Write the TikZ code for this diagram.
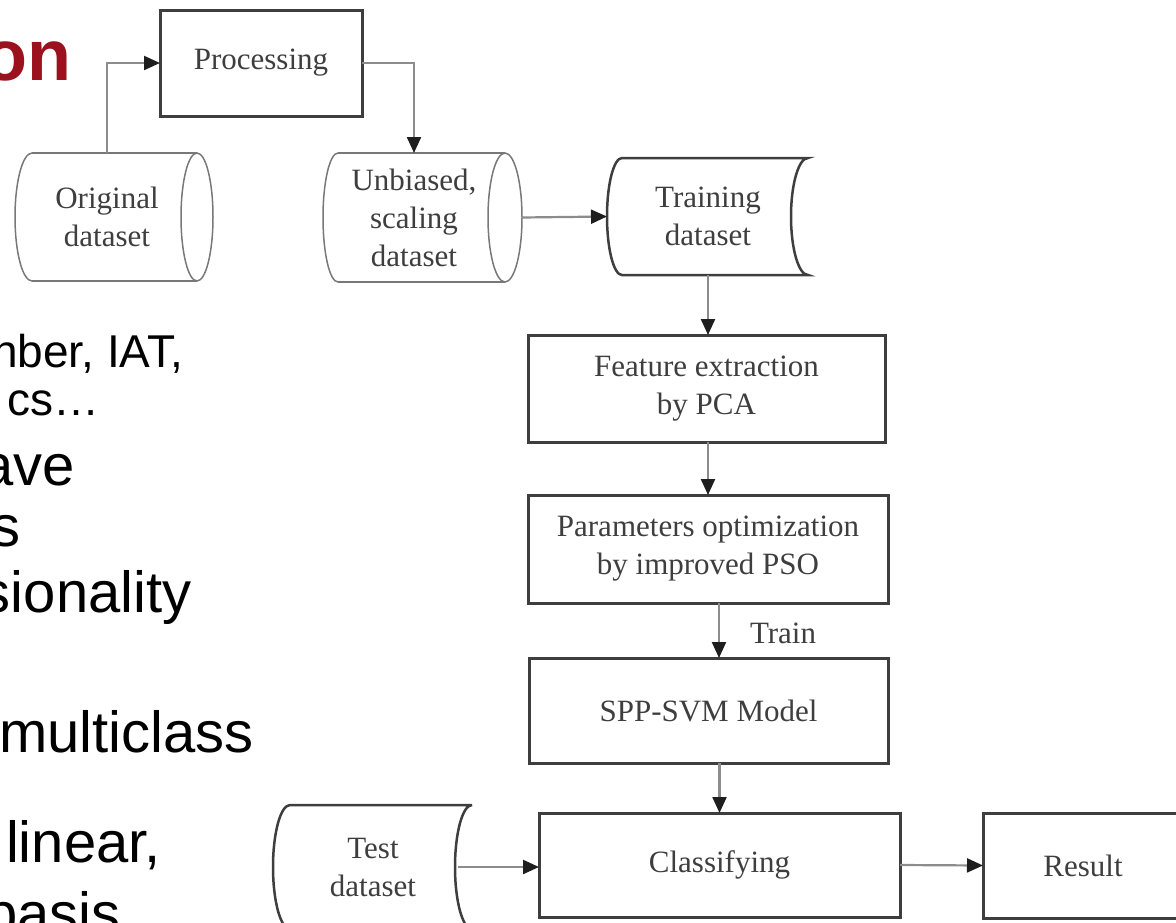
\documentclass[tikz,border=0pt]{standalone}
\usepackage{fontspec}
\setmainfont{Liberation Serif}
\newfontfamily\slidefont{Liberation Sans}
\usetikzlibrary{arrows.meta}

\definecolor{titlered}{RGB}{155,17,30}
\definecolor{boxline}{RGB}{62,62,62}
\definecolor{connline}{RGB}{140,140,140}
\definecolor{tipcol}{RGB}{30,30,30}
\definecolor{drumline}{RGB}{120,120,120}
\definecolor{labeltext}{RGB}{62,62,62}

\begin{document}
\begin{tikzpicture}[x=1pt, y=-1pt,
  every node/.style={inner sep=0pt, outer sep=0pt},
  txt/.style={font=\fontsize{31}{38}\selectfont, text=labeltext, align=center},
  procbox/.style={draw=boxline, line width=3pt, txt},
  conn/.style={draw=connline, line width=2.2pt,
    -{Triangle[length=16pt, width=14pt, color=tipcol]}},
  drum/.style={draw=drumline, line width=1.5pt},
  stored/.style={draw=boxline, line width=2.5pt},
  slidebig/.style={font=\slidefont\fontsize{58}{66}\selectfont, anchor=base west, text=black},
  slidesmall/.style={font=\slidefont\fontsize{46}{52}\selectfont, anchor=base west, text=black}]

\path[use as bounding box] (0,0) rectangle (1176,922);
\clip (0,0) rectangle (1176,922);

% slide text at the left
\node[anchor=base east, text=titlered, font=\slidefont\bfseries\fontsize{72}{80}\selectfont] (title) at (71,80) {on};
\node[slidesmall] (b1) at (-8,367) {nber, IAT,};
\node[slidesmall] (b2) at (8,415) {cs…};
\node[slidebig] (b3) at (-19,485) {ave};
\node[slidebig] (b4) at (-9,546) {s};
\node[slidebig] (b5) at (-18,612) {sionality};
\node[slidebig] (b6) at (-1,752) {multiclass};
\node[slidebig] (b7) at (6,862) {linear,};
\node[slidebig] (b8) at (-15,933) {basis};

% process boxes
\node[procbox, minimum width=202pt, minimum height=106pt] (proc) at (261,63) {Processing};
\node[procbox, minimum width=357pt, minimum height=107pt] (feat) at (706.5,388.5) {Feature extraction\\by PCA};
\node[procbox, minimum width=360pt, minimum height=108pt] (params) at (708,549) {Parameters optimization\\by improved PSO};
\node[procbox, minimum width=359pt, minimum height=105pt] (spp) at (708.5,710.5) {SPP-SVM Model};
\node[procbox, minimum width=361pt, minimum height=104pt] (cls) at (719.5,865) {Classifying};
\node[procbox, minimum width=200pt, minimum height=105pt] (res) at (1083,865.5) {Result};

% drum (direct access storage) shapes
\node[txt, minimum width=180pt, minimum height=128pt] (orig) at (107,217) {Original\\dataset};
\draw[drum] (32,153) -- (197,153) (32,281) -- (197,281);
\draw[drum] (32,153) arc[start angle=90, end angle=270, x radius=17pt, y radius=64pt];
\draw[drum] (197,217) ellipse[x radius=16pt, y radius=64pt];

\node[txt, minimum width=216pt, minimum height=129pt] (unb) at (414,217.5) {Unbiased,\\scaling\\dataset};
\draw[drum] (338,153) -- (505,153) (338,282) -- (505,282);
\draw[drum] (338,153) arc[start angle=90, end angle=270, x radius=15pt, y radius=64.5pt];
\draw[drum] (505,217.5) ellipse[x radius=17pt, y radius=64.5pt];

% stored data shapes
\node[txt, minimum width=202pt, minimum height=117pt] (train) at (708,216.5) {Training\\dataset};
\draw[stored] (622,158) -- (808,158)
  arc[start angle=90, end angle=270, x radius=17pt, y radius=58.5pt]
  -- (622,275)
  arc[start angle=270, end angle=90, x radius=15pt, y radius=58.5pt] -- cycle;

\node[txt, minimum width=170pt, minimum height=124pt] (test) at (373,867) {Test\\dataset};
\draw[stored] (472,805) -- (290,805)
  arc[start angle=90, end angle=270, x radius=17pt, y radius=62pt]
  -- (472,929)
  arc[start angle=270, end angle=90, x radius=17pt, y radius=62pt];

% connectors
\draw[conn] (orig.north) |- (proc.west);
\draw[conn] (proc.east) -| (unb.north);
\draw[conn] (unb.east) -- (train.west);
\draw[conn] (train.south) -- (train.south |- feat.north);
\draw[conn] (feat.south -| train.south) -- (train.south |- params.north);
\draw[conn] ([xshift=11pt]params.south) -- ([xshift=11pt]params.south |- spp.north);
\node[txt, anchor=west] (trainlbl) at (750,633) {Train};
\draw[conn] (spp.south -| cls.north) -- (cls.north);
\draw[conn] (test.east) -- (test.east -| cls.west);
\draw[conn] (cls.east) -- (res.west);
\end{tikzpicture}
\end{document}
